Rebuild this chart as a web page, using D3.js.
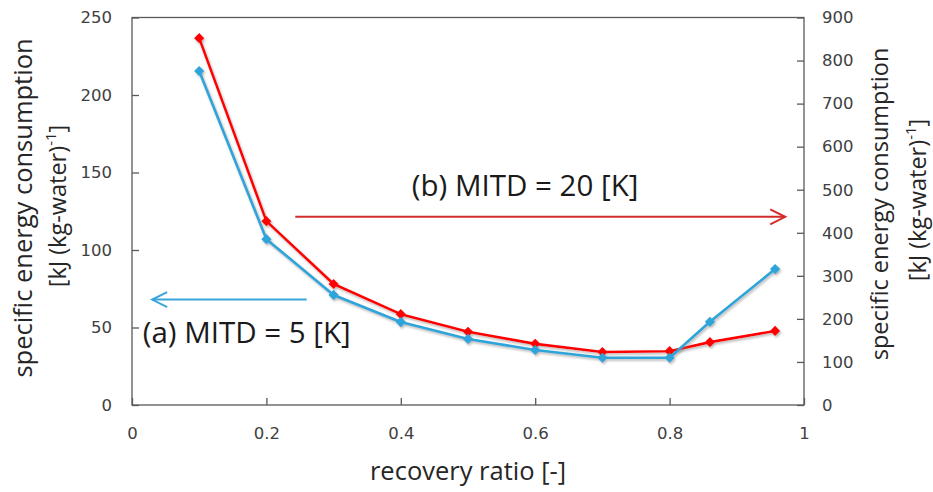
<!DOCTYPE html>
<meta charset="utf-8">
<style>
body { margin: 0; background: #fff; }
.tick-label { font-family: "DejaVu Sans", sans-serif; font-size: 16.5px; fill: #404040; }
.title { font-family: "Open Sans", sans-serif; font-size: 25.5px; fill: #262626; }
.title-r { font-family: "Open Sans", sans-serif; font-size: 23.5px; fill: #262626; }
.unit { font-family: "Open Sans", sans-serif; font-size: 23.5px; fill: #262626; }
.note { font-family: "Open Sans", sans-serif; font-size: 29.5px; fill: #1a1a1a; }
</style>
<div id="chart"></div>
<script src="https://cdn.jsdelivr.net/npm/d3@7"></script>
<script>

// recovery ratio values and the two series
var ratio = [0.1, 0.2, 0.3, 0.4, 0.5, 0.6, 0.7, 0.8, 0.86, 0.957];
var mitd5 = [215.5, 107, 71, 53.5, 42.6, 35.5, 30.5, 30.5, 53.7, 87.7];     // left axis
var mitd20 = [852, 427, 281, 211, 170, 142, 123, 125, 146, 172];          // right axis

var xTicks = [0, 0.2, 0.4, 0.6, 0.8, 1];
var yLeftTicks = [0, 50, 100, 150, 200, 250];
var yRightTicks = [0, 100, 200, 300, 400, 500, 600, 700, 800, 900];

var width = 933, height = 492;
var pLeft = 132, pRight = 804, pTop = 17.5, pBottom = 405;

var x = d3.scaleLinear().domain([0, 1]).range([pLeft, pRight]);
var yL = d3.scaleLinear().domain([0, 250]).range([pBottom, pTop]);
var yR = d3.scaleLinear().domain([0, 900]).range([pBottom, pTop]);

var svg = d3.select("#chart").append("svg")
    .attr("width", width)
    .attr("height", height);

var defs = svg.append("defs");
defs.append("filter")
    .attr("id", "shadow")
    .attr("x", "-10%").attr("y", "-10%")
    .attr("width", "120%").attr("height", "120%")
  .append("feDropShadow")
    .attr("dx", 1.2).attr("dy", 1.8)
    .attr("stdDeviation", 0.9)
    .attr("flood-color", "#7f7f7f")
    .attr("flood-opacity", 0.55);

// plot frame
svg.append("rect")
    .attr("x", pLeft).attr("y", pTop)
    .attr("width", pRight - pLeft).attr("height", pBottom - pTop)
    .attr("fill", "none")
    .attr("stroke", "#595959")
    .attr("stroke-width", 1.3);

// axes with inward ticks, no domain path
function cleanAxis(g) {
  g.select(".domain").remove();
  g.selectAll(".tick line").attr("stroke", "#595959").attr("stroke-width", 1.3);
  g.selectAll(".tick text").attr("class", "tick-label").attr("fill", null);
}

svg.append("g")
    .attr("transform", "translate(0," + pBottom + ")")
    .call(d3.axisTop(x).tickValues(xTicks).tickSize(7).tickFormat(d3.format("")))
    .call(cleanAxis)
    .selectAll(".tick text")
    .attr("y", 34).attr("dy", 0);

svg.append("g")
    .attr("transform", "translate(" + pLeft + ",0)")
    .call(d3.axisRight(yL).tickValues(yLeftTicks).tickSize(7))
    .call(cleanAxis)
    .selectAll(".tick text")
    .attr("x", -20).attr("text-anchor", "end");

svg.append("g")
    .attr("transform", "translate(" + pRight + ",0)")
    .call(d3.axisLeft(yR).tickValues(yRightTicks).tickSize(7))
    .call(cleanAxis)
    .selectAll(".tick text")
    .attr("x", 18).attr("text-anchor", "start");

// series
function series(values, y, color) {
  var pts = ratio.map(function(r, i) { return [r, values[i]]; });
  var g = svg.append("g").attr("filter", "url(#shadow)");
  g.append("path")
      .datum(pts)
      .attr("fill", "none")
      .attr("stroke", color)
      .attr("stroke-width", 2.6)
      .attr("stroke-linejoin", "round")
      .attr("d", d3.line().x(function(d) { return x(d[0]); }).y(function(d) { return y(d[1]); }));
  g.selectAll("path.marker")
      .data(pts)
      .enter()
      .append("path")
      .attr("class", "marker")
      .attr("fill", color)
      .attr("d", d3.symbol().type(d3.symbolSquare).size(52))
      .attr("transform", function(d) {
        return "translate(" + x(d[0]) + "," + y(d[1]) + ") rotate(45)";
      });
}

series(mitd20, yR, "#ff0000");
series(mitd5, yL, "#2ea5da");

// annotation arrows
function arrow(x1, x2, yv, color) {
  var dir = x2 > x1 ? 1 : -1;
  var g = svg.append("g").attr("stroke", color).attr("stroke-width", 2).attr("fill", "none");
  g.append("line")
      .attr("x1", x1).attr("x2", x2)
      .attr("y1", yv).attr("y2", yv);
  g.append("path")
      .attr("d", "M" + (x2 - dir * 15) + "," + (yv - 7.5) + "L" + x2 + "," + yv + "L" + (x2 - dir * 15) + "," + (yv + 7.5));
}

arrow(x(0.243), x(0.972), yR(437), "#d22b2b");
arrow(x(0.26), x(0.03), yL(68), "#3aa5d8");

svg.append("text")
    .attr("class", "note")
    .attr("x", x(0.585))
    .attr("y", yR(485))
    .attr("text-anchor", "middle")
    .text("(b) MITD = 20 [K]");

svg.append("text")
    .attr("class", "note")
    .attr("x", x(0.016))
    .attr("y", yL(40))
    .text("(a) MITD = 5 [K]");

// axis titles
svg.append("text")
    .attr("class", "title")
    .attr("x", (pLeft + pRight) / 2)
    .attr("y", 480)
    .attr("text-anchor", "middle")
    .text("recovery ratio [-]");

function yTitle(cls, cy, x1, x2, shift) {
  var g = svg.append("g").attr("transform", "translate(0," + cy + ") rotate(-90)");
  g.append("text")
      .attr("class", cls)
      .attr("x", 0).attr("y", x1)
      .attr("text-anchor", "middle")
      .text("specific energy consumption");
  var t = g.append("text")
      .attr("class", "unit")
      .attr("x", shift).attr("y", x2)
      .attr("text-anchor", "middle");
  t.append("tspan").text("[kJ (kg-water)");
  t.append("tspan").attr("dy", -10).style("font-size", "15px").text("-1");
  t.append("tspan").attr("dy", 10).text("]");
}

yTitle("title", 208, 32, 66, 2);
yTitle("title-r", 204, 888, 926, 4);

</script>
